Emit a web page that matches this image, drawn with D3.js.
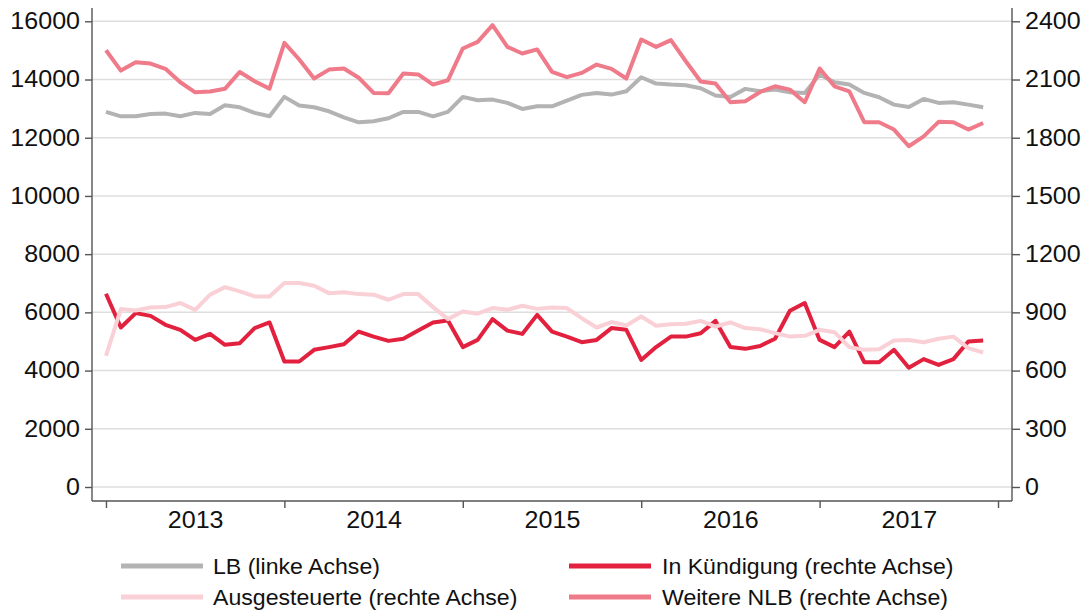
<!DOCTYPE html>
<html>
<head>
<meta charset="utf-8">
<script src="https://cdn.jsdelivr.net/npm/d3@7"></script>
<style>
  html, body { margin: 0; padding: 0; background: #fff; }
  svg { display: block; font-family: Arial, "Liberation Sans", sans-serif; }
</style>
</head>
<body>
<svg id="chart" width="1089" height="611"></svg>
<script>
// ---- Data (monthly, Jan 2013 – Dec 2017) ----
const years = ["2013", "2014", "2015", "2016", "2017"];
const leftTicks = [0, 2000, 4000, 6000, 8000, 10000, 12000, 14000, 16000];
const rightTicks = [0, 300, 600, 900, 1200, 1500, 1800, 2100, 2400];

// LB (linke Achse)
const lb = [12887, 12736, 12736, 12818, 12829, 12736, 12853, 12818, 13115, 13046, 12853, 12736,
            13403, 13104, 13046, 12908, 12702, 12530, 12564, 12670, 12887, 12887, 12736, 12887,
            13403, 13287, 13310, 13197, 12990, 13080, 13080, 13276, 13472, 13540, 13482, 13598,
            14078, 13861, 13826, 13803, 13700, 13448, 13403, 13678, 13598, 13655, 13563, 13540,
            14170, 13906, 13826, 13540, 13390, 13138, 13058, 13334, 13197, 13218, 13138, 13046];

// In Kündigung (rechte Achse)
const kuendigung = [996, 822, 896, 882, 836, 810, 758, 789, 733, 741, 819, 848,
                    647, 647, 707, 721, 736, 801, 775, 753, 764, 806, 848, 858,
                    721, 758, 865, 806, 789, 887, 801, 775, 746, 758, 819, 810,
                    655, 721, 775, 775, 792, 856, 721, 712, 727, 764, 908, 948,
                    758, 721, 801, 643, 643, 707, 615, 659, 629, 659, 750, 755];

// Ausgesteuerte (rechte Achse)
const ausgesteuerte = [676, 917, 910, 925, 927, 948, 913, 991, 1030, 1008, 982, 982,
                       1051, 1051, 1037, 999, 1004, 994, 991, 965, 994, 994, 927, 865,
                       904, 893, 922, 913, 934, 918, 925, 922, 870, 822, 850, 832,
                       879, 831, 839, 841, 856, 827, 848, 819, 813, 793, 775, 779,
                       810, 798, 721, 707, 710, 755, 758, 746, 764, 775, 716, 693];

// Weitere NLB (rechte Achse)
const weitere = [2251, 2146, 2189, 2182, 2155, 2086, 2034, 2038, 2052, 2139, 2091, 2053,
                 2289, 2203, 2105, 2151, 2157, 2109, 2031, 2029, 2131, 2126, 2074, 2096,
                 2260, 2294, 2380, 2268, 2234, 2255, 2139, 2112, 2134, 2177, 2155, 2105,
                 2306, 2268, 2303, 2194, 2090, 2079, 1983, 1988, 2036, 2065, 2048, 1983,
                 2157, 2065, 2039, 1880, 1880, 1842, 1756, 1807, 1882, 1880, 1842, 1876];

const seriesNames = ["LB (linke Achse)", "In Kündigung (rechte Achse)",
                     "Ausgesteuerte (rechte Achse)", "Weitere NLB (rechte Achse)"];
const seriesColors = ["#b3b3b3", "#e2213f", "#f9d0d6", "#ef7b8a"];

// ---- Layout ----
const svg = d3.select("#chart");
const plotL = 92, plotR = 1012, plotTop = 8, plotBottom = 501;
const stretch = 1.09;

const x = d3.scaleLinear().domain([-0.94, 60.94]).range([plotL, plotR]);
const yL = d3.scaleLinear().domain([0, 16000]).range([487, 21.3]);
const yR = d3.scaleLinear().domain([0, 2400]).range([487, 21.3]);

const axisColor = "#555";

// gridlines
svg.append("g").selectAll("line").data(leftTicks).join("line")
  .attr("x1", plotL).attr("x2", plotR)
  .attr("y1", d => yL(d)).attr("y2", d => yL(d))
  .attr("stroke", "#dedede").attr("stroke-width", 1.5);

// lines
function drawLine(vals, scale, color) {
  const line = d3.line().x((d, i) => x(i)).y(d => scale(d)).curve(d3.curveLinear);
  svg.append("path").datum(vals)
    .attr("d", line)
    .attr("fill", "none")
    .attr("stroke", color)
    .attr("stroke-width", 4)
    .attr("stroke-linejoin", "round")
    .attr("stroke-linecap", "butt");
}
drawLine(lb, yL, seriesColors[0]);
drawLine(kuendigung, yR, seriesColors[1]);
drawLine(ausgesteuerte, yR, seriesColors[2]);
drawLine(weitere, yR, seriesColors[3]);

// axis lines
const axes = svg.append("g").attr("stroke", axisColor).attr("stroke-width", 1.4);
axes.append("line").attr("x1", plotL).attr("x2", plotL).attr("y1", plotTop).attr("y2", plotBottom);
axes.append("line").attr("x1", plotR).attr("x2", plotR).attr("y1", plotTop).attr("y2", plotBottom);
axes.append("line").attr("x1", plotL).attr("x2", plotR).attr("y1", plotBottom).attr("y2", plotBottom);

const fontSize = 23;

function styleText(sel) {
  sel.attr("fill", "#111").style("font-size", fontSize + "px")
    .style("font-family", "Arial, 'Liberation Sans', sans-serif");
}

// left axis
const gl = svg.append("g").attr("transform", `translate(${plotL},0)`)
  .call(d3.axisLeft(yL).tickValues(leftTicks).tickSize(7).tickPadding(5).tickFormat(d3.format("d")));
gl.select(".domain").remove();
gl.selectAll(".tick line").attr("stroke", axisColor).attr("stroke-width", 1.4);
gl.selectAll(".tick text").call(styleText)
  .attr("x", -12 / stretch).attr("transform", `scale(${stretch},1)`);

// right axis
const gr = svg.append("g").attr("transform", `translate(${plotR},0)`)
  .call(d3.axisRight(yR).tickValues(rightTicks).tickSize(8).tickPadding(5).tickFormat(d3.format("d")));
gr.select(".domain").remove();
gr.selectAll(".tick line").attr("stroke", axisColor).attr("stroke-width", 1.4);
gr.selectAll(".tick text").call(styleText)
  .attr("x", 13 / stretch).attr("transform", `scale(${stretch},1)`);

// bottom ticks (year boundaries)
const gb = svg.append("g").attr("transform", `translate(0,${plotBottom})`)
  .call(d3.axisBottom(x).tickValues([0, 12, 24, 36, 48, 60]).tickSize(7).tickFormat(""));
gb.select(".domain").remove();
gb.selectAll(".tick line").attr("stroke", axisColor).attr("stroke-width", 1.4);

// year labels
const gy = svg.append("g").attr("transform", `translate(0,${plotBottom})`)
  .call(d3.axisBottom(x).tickValues([6, 18, 30, 42, 54]).tickSize(0).tickPadding(11)
        .tickFormat((d, i) => years[i]));
gy.select(".domain").remove();
gy.selectAll(".tick text").call(styleText).attr("transform", `scale(${stretch},1)`);

// legend
const legendPos = [
  {sx: 121, ty: 566, tx: 213},
  {sx: 569, ty: 566, tx: 662},
  {sx: 121, ty: 597, tx: 213},
  {sx: 569, ty: 597, tx: 662}
];
const legend = svg.append("g");
seriesNames.forEach((name, i) => {
  const p = legendPos[i];
  legend.append("line")
    .attr("x1", p.sx).attr("x2", p.sx + 82)
    .attr("y1", p.ty).attr("y2", p.ty)
    .attr("stroke", seriesColors[i]).attr("stroke-width", 5);
  legend.append("text")
    .attr("transform", `translate(${p.tx},${p.ty}) scale(1.075,1)`)
    .attr("dy", "0.35em")
    .attr("fill", "#111")
    .style("font-size", "21.5px")
    .text(name);
});
</script>
</body>
</html>
